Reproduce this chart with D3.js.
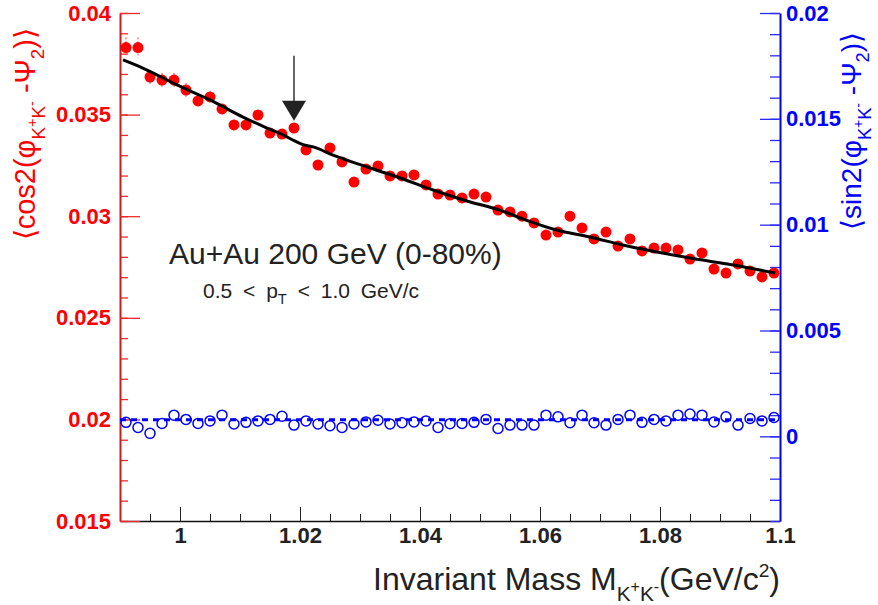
<!DOCTYPE html>
<html>
<head>
<meta charset="utf-8">
<script src="https://cdn.jsdelivr.net/npm/d3@7"></script>
<style>
	body{margin:0;background:#fff;}
	svg{display:block;font-family:"Liberation Sans",Arial,Helvetica,sans-serif;}
</style>
</head>
<body>
<svg id="chart" width="878" height="605"></svg>
<script>
//bin centres, GeV/c^2
const mass = [0.991,0.993,0.995,0.997,0.999,1.001,1.003,1.005,1.007,1.009,
	1.011,1.013,1.015,1.017,1.019,1.021,1.023,1.025,1.027,1.029,
	1.031,1.033,1.035,1.037,1.039,1.041,1.043,1.045,1.047,1.049,
	1.051,1.053,1.055,1.057,1.059,1.061,1.063,1.065,1.067,1.069,
	1.071,1.073,1.075,1.077,1.079,1.081,1.083,1.085,1.087,1.089,
	1.091,1.093,1.095,1.097,1.099];

//<cos2(phi-Psi2)>, left axis
const cosValues = [0.0383,0.0383,0.03685,0.0367,0.0367,0.03621,0.03567,0.03587,0.03528,0.03449,
	0.03449,0.03498,0.03409,0.03404,0.03434,0.03326,0.03252,0.03336,0.03267,0.03168,
	0.03232,0.03247,0.03198,0.03198,0.03203,0.03154,0.03109,0.03104,0.0309,0.03109,
	0.03094,0.0303,0.03021,0.03,0.02967,0.02907,0.02922,0.03,0.02942,0.02888,
	0.02922,0.02853,0.02888,0.02829,0.02843,0.02843,0.02834,0.02789,0.02819,0.0274,
	0.0272,0.02765,0.0273,0.02701,0.0272];
const cosErrors = [0.0005,0.0005,0.00035,0.00035,0.00035,0.00035,0.0003,0.0003,0.00025,0.00025,
	0.0002,0.0002,0.0002,0.0002,0.0002,0.0002,0.0002,0.0002,0.0002,0.0002,
	0.0002,0.0002,0.0002,0.0002,0.0002,0.0002,0.0002,0.0002,0.0002,0.0002,
	0.0002,0.0002,0.0002,0.0002,0.0002,0.0002,0.0002,0.0002,0.0002,0.0002,
	0.0002,0.0002,0.0002,0.0002,0.0002,0.0002,0.0002,0.0002,0.0002,0.0002,
	0.0002,0.0002,0.0002,0.0002,0.0002];

//<sin2(phi-Psi2)>, right axis
const sinValues = [0.00066,0.00042,0.00014,0.00061,0.001,0.0008,0.00061,0.00073,0.001,0.00058,
	0.00066,0.00073,0.0008,0.00095,0.00053,0.00073,0.00058,0.0005,0.00042,0.00058,
	0.00068,0.00076,0.00058,0.00064,0.00068,0.00073,0.00042,0.0006,0.00061,0.00066,
	0.0008,0.00037,0.00053,0.00053,0.00053,0.001,0.00092,0.00064,0.001,0.00064,
	0.00053,0.0008,0.001,0.00066,0.0008,0.00073,0.001,0.00105,0.001,0.00068,
	0.00092,0.00053,0.00084,0.00073,0.00089];
const sinFit = 0.00078;

//fit curve for the cos2 points
const fitMass = [0.9905,0.9938,0.9995,1.005,1.0105,1.0145,1.0172,1.019,1.0205,1.0222,
	1.0255,1.0312,1.0367,1.0422,1.0478,1.0533,1.0572,1.0628,1.0683,1.0738,
	1.0795,1.085,1.0922,1.0992];
const fitCos = [0.03769,0.03729,0.03646,0.03572,0.03488,0.03434,0.034,0.03372,0.03352,0.03341,
	0.03301,0.03242,0.03188,0.03129,0.03075,0.0303,0.02986,0.02932,0.02898,0.02858,
	0.02824,0.02794,0.0276,0.0272];

//phi meson mass arrow
const arrowMass = 1.019;
const arrowFrom = 0.0379;
const arrowTo = 0.0347;

const leftTicks = [0.015,0.02,0.025,0.03,0.035,0.04];
const rightTicks = [0,0.005,0.01,0.015,0.02];
const massTicks = [1,1.02,1.04,1.06,1.08,1.1];

const svg = d3.select('#chart');
const W = 878, H = 605;
const m = {t:13,r:98,b:84,l:120};

const x = d3.scaleLinear().domain([0.99,1.1]).range([m.l,W-m.r]);
const yL = d3.scaleLinear().domain([0.015,0.04]).range([H-m.b,m.t]);
const yR = d3.scaleLinear().domain([-0.004,0.02]).range([H-m.b,m.t]);

svg.append('rect').attr('width',W).attr('height',H).style('fill','#fff');

//rich text helper: parts with baseline offsets in em
function rich(sel,parts,size){
	let prev = 0;
	parts.forEach(p=>{
		const off = (p.off||0)*size;
		sel.append('tspan')
			.attr('dy',off-prev)
			.style('font-size',(p.k||1)*size+'px')
			.text(p.t);
		prev = off;
	});
}

//x axis
const xAxisG = svg.append('g')
	.attr('transform',`translate(0,${H-m.b})`);
xAxisG.append('g')
	.call(d3.axisBottom(x).tickValues(d3.range(0.99,1.1001,0.005)).tickSize(-7).tickSizeOuter(0).tickFormat(''))
	.call(g=>g.select('.domain').remove());
xAxisG.append('g')
	.call(d3.axisBottom(x).tickValues(massTicks).tickSize(-14).tickSizeOuter(0).tickPadding(6).tickFormat(d=>String(d)))
	.call(g=>g.select('.domain').attr('stroke','#111').attr('stroke-width',1.5));
xAxisG.selectAll('line').attr('stroke','#222');
xAxisG.selectAll('text')
	.style('font-size','22px')
	.style('font-weight','bold')
	.style('fill','#222');

//left axis
const leftG = svg.append('g').attr('transform',`translate(${m.l},0)`);
leftG.append('g')
	.call(d3.axisLeft(yL).tickValues(d3.range(0.015,0.04001,0.001)).tickSize(-8).tickSizeOuter(0).tickFormat(''))
	.call(g=>g.select('.domain').remove());
leftG.append('g')
	.call(d3.axisLeft(yL).tickValues(leftTicks).tickSize(-20).tickSizeOuter(0).tickPadding(9).tickFormat(d=>String(d)))
	.call(g=>g.select('.domain').attr('stroke','#cc1c1c').attr('stroke-width',2));
leftG.selectAll('.tick line').attr('stroke','#ee2a2a').attr('stroke-width',1.3);
leftG.selectAll('text')
	.style('font-size','22px')
	.style('font-weight','bold')
	.style('fill','#ff0000');

//right axis
const rightG = svg.append('g').attr('transform',`translate(${W-m.r},0)`);
rightG.append('g')
	.call(d3.axisRight(yR).tickValues(d3.range(-0.004,0.02001,0.001)).tickSize(-10).tickSizeOuter(0).tickFormat(''))
	.call(g=>g.select('.domain').remove());
rightG.append('g')
	.call(d3.axisRight(yR).tickValues(rightTicks).tickSize(-20).tickSizeOuter(0).tickPadding(6).tickFormat(d=>String(d)))
	.call(g=>g.select('.domain').attr('stroke','#0000ff').attr('stroke-width',2));
rightG.selectAll('.tick line').attr('stroke','#2a2aff').attr('stroke-width',1.3);
rightG.selectAll('text')
	.style('font-size','22px')
	.style('font-weight','bold')
	.style('fill','#0000ff');

//sin2 constant fit, dashed
svg.append('line')
	.attr('x1',x(0.99)).attr('x2',x(1.1))
	.attr('y1',yR(sinFit)).attr('y2',yR(sinFit))
	.style('stroke','#0000ff')
	.style('stroke-width',3)
	.style('stroke-dasharray','6,5');

//sin2 points, open circles
svg.append('g').attr('class','sin')
	.selectAll('circle')
	.data(sinValues)
	.enter()
	.append('circle')
	.attr('cx',(d,i)=>x(mass[i]))
	.attr('cy',d=>yR(d))
	.attr('r',5)
	.style('fill','none')
	.style('stroke','#0000ff')
	.style('stroke-width',1.5);

//cos2 error bars
svg.append('g').attr('class','cos-err')
	.selectAll('line')
	.data(cosValues)
	.enter()
	.append('line')
	.attr('x1',(d,i)=>x(mass[i])).attr('x2',(d,i)=>x(mass[i]))
	.attr('y1',(d,i)=>yL(d+cosErrors[i]))
	.attr('y2',(d,i)=>yL(d-cosErrors[i]))
	.style('stroke','#ff4040')
	.style('stroke-width',1)
	.style('stroke-dasharray','2,2');

//cos2 points
svg.append('g').attr('class','cos')
	.selectAll('circle')
	.data(cosValues)
	.enter()
	.append('circle')
	.attr('cx',(d,i)=>x(mass[i]))
	.attr('cy',d=>yL(d))
	.attr('r',5.5)
	.style('fill','#ff0000');

//fit curve
const fitLine = d3.line()
	.x(d=>x(d[0]))
	.y(d=>yL(d[1]))
	.curve(d3.curveMonotoneX);
svg.append('path')
	.datum(fitMass.map((v,i)=>[v,fitCos[i]]))
	.attr('d',fitLine)
	.style('fill','none')
	.style('stroke','#000')
	.style('stroke-width',3);

//arrow at phi mass
const ax = x(arrowMass);
svg.append('line')
	.attr('x1',ax).attr('x2',ax)
	.attr('y1',yL(arrowFrom)).attr('y2',yL(arrowTo)-18)
	.style('stroke','#000')
	.style('stroke-width',1.2);
svg.append('path')
	.attr('d',`M${ax-12},${yL(arrowTo)-20}L${ax+12},${yL(arrowTo)-20}L${ax},${yL(arrowTo)}Z`)
	.style('fill','#222');

//labels
svg.append('text')
	.attr('x',169).attr('y',264)
	.style('font-size','30px')
	.style('fill','#222')
	.text('Au+Au 200 GeV (0-80%)');

const ptText = svg.append('text')
	.attr('x',203).attr('y',298)
	.style('fill','#222')
	.style('word-spacing','5px');
rich(ptText,[{t:'0.5 < p'},{t:'T',off:.3,k:.7},{t:' < 1.0 GeV/c',off:0}],21);

const xTitle = svg.append('text')
	.attr('x',W-m.r).attr('y',590)
	.attr('text-anchor','end')
	.style('fill','#222');
rich(xTitle,[{t:'Invariant Mass M'},{t:'K',off:.33,k:.65},{t:'+',off:.05,k:.5},{t:'K',off:.33,k:.65},
	{t:'-',off:.05,k:.5},{t:'(GeV/c',off:0},{t:'2',off:-.4,k:.6},{t:')',off:0}],32);

const leftTitle = svg.append('text')
	.attr('transform','translate(35,28) rotate(-90)')
	.attr('text-anchor','end')
	.style('fill','#ff0000');
rich(leftTitle,[{t:'⟨cos2(φ'},{t:'K',off:.35,k:.65},{t:'+',off:.08,k:.5},{t:'K',off:.35,k:.65},
	{t:'-',off:.08,k:.5},{t:' -Ψ',off:0},{t:'2',off:.3,k:.65},{t:')⟩',off:0}],29);

const rightTitle = svg.append('text')
	.attr('transform','translate(861,32) rotate(-90)')
	.attr('text-anchor','end')
	.style('fill','#0000ff');
rich(rightTitle,[{t:'⟨sin2(φ'},{t:'K',off:.35,k:.65},{t:'+',off:.08,k:.5},{t:'K',off:.35,k:.65},
	{t:'-',off:.08,k:.5},{t:' -Ψ',off:0},{t:'2',off:.3,k:.65},{t:')⟩',off:0}],28);
</script>
</body>
</html>
